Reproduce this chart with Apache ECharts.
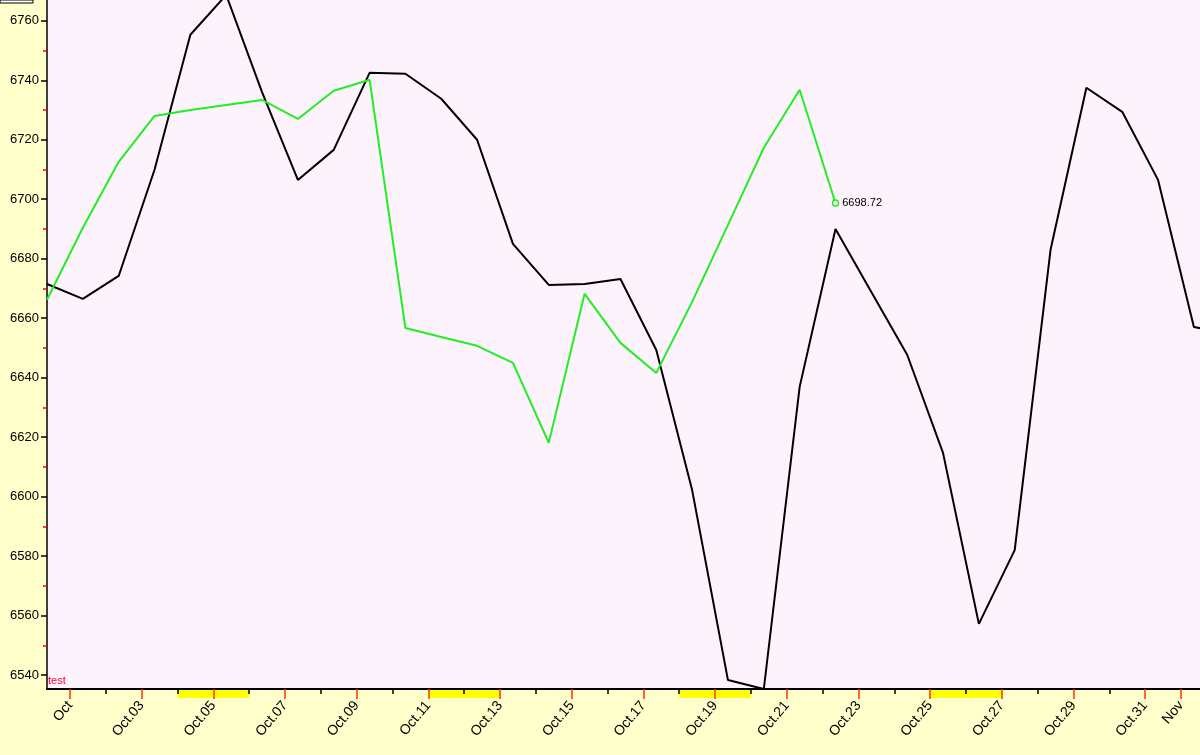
<!DOCTYPE html>
<html>
<head>
<meta charset="utf-8">
<script src="https://cdn.jsdelivr.net/npm/echarts@6/dist/echarts.min.js"></script>
<style>
  html, body { margin: 0; padding: 0; background: #ffffcc; }
  #chart { width: 1200px; height: 755px; }
</style>
</head>
<body>
<div id="chart"></div>
<script>
// day number (Oct 1 = 1) of first sample
var startDay = 0.36;
var blackValues = [6671.5, 6666.5, 6674.2, 6709.9, 6755.3, 6768.7, 6736, 6706.5, 6716.6, 6742.5,
    6742.2, 6733.8, 6720, 6685, 6671.2, 6671.5, 6673.2, 6649.3, 6602.2, 6538.3,
    6535.3, 6636.9, 6690, 6668.8, 6647.7, 6614.7, 6557.2, 6582, 6683, 6737.5,
    6729.4, 6706.5, 6657, 6655];
var greenValues = [6666.2, 6690.4, 6712.6, 6728, 6730, 6731.7, 6733.4, 6727, 6736.5, 6740.2,
    6656.7, 6653.7, 6650.7, 6645, 6618.1, 6668.2, 6651.7, 6641.6, 6665.5, 6691.4,
    6717.3, 6736.8, 6698.72];
var labelDays = [1, 3, 5, 7, 9, 11, 13, 15, 17, 19, 21, 23, 25, 27, 29, 31, 32];
var minorDays = [2, 4, 6, 8, 10, 12, 14, 16, 18, 20, 22, 24, 26, 28, 30];
var yLabels = [6540, 6560, 6580, 6600, 6620, 6640, 6660, 6680, 6700, 6720, 6740, 6760];
var yMinor = [6550, 6570, 6590, 6610, 6630, 6650, 6670, 6690, 6710, 6730, 6750];
// weekend spans shown as yellow bars under the axis
var weekends = [[4, 6], [11, 13], [18, 20], [25, 27]];

function toPts(vals) {
    return vals.map(function (v, i) { return [startDay + i, v]; });
}
var blackData = toPts(blackValues);
var greenData = toPts(greenValues);

var xMin = startDay, xMax = 32.53, yMin = 6535.3, yMax = 6767;

var chart = echarts.init(document.getElementById('chart'));
chart.setOption({
    backgroundColor: '#ffffcc',
    animation: false,
    grid: { left: 47, right: 0, top: 0, bottom: 66, show: true, backgroundColor: '#fdf3fd', borderWidth: 0 },
    xAxis: [{
        type: 'value', min: xMin, max: xMax,
        axisLine: { show: true, onZero: false, lineStyle: { color: '#000', width: 2 } },
        splitLine: { show: false },
        axisTick: { show: true, length: 10, customValues: labelDays, lineStyle: { color: '#ff3300', width: 1.5 } },
        axisLabel: {
            customValues: labelDays, rotate: 50, color: '#000', fontSize: 14, fontFamily: 'Arial', margin: 14,
            formatter: function (v) {
                if (v === 1) return 'Oct';
                if (v === 32) return 'Nov';
                return 'Oct.' + (v < 10 ? '0' + v : v);
            }
        }
    }, {
        type: 'value', min: xMin, max: xMax, position: 'bottom',
        axisLine: { show: false }, splitLine: { show: false },
        axisTick: { show: true, length: 5, customValues: minorDays, lineStyle: { color: '#000', width: 1.5 } },
        axisLabel: { show: false }
    }],
    yAxis: [{
        type: 'value', min: yMin, max: yMax,
        axisLine: { show: true, lineStyle: { color: '#000', width: 1.5 } },
        splitLine: { show: false },
        axisTick: { show: true, length: 6, customValues: yLabels, lineStyle: { color: '#000', width: 1.5 } },
        axisLabel: {
            customValues: yLabels, color: '#000', fontSize: 13, fontFamily: 'Arial', margin: 8,
            formatter: function (v) { return String(v); }
        }
    }, {
        type: 'value', min: yMin, max: yMax, position: 'left',
        axisLine: { show: false }, splitLine: { show: false },
        axisTick: { show: true, length: 4, customValues: yMinor, lineStyle: { color: '#ff0000', width: 1.5 } },
        axisLabel: { show: false }
    }],
    series: [{
        type: 'line', data: blackData, showSymbol: false, clip: true,
        lineStyle: { color: '#000', width: 2 }
    }, {
        type: 'line', data: greenData, clip: true,
        symbol: 'circle',
        showSymbol: true,
        itemStyle: { color: '#fdf3fd', borderColor: '#22ee22', borderWidth: 1.5 },
        lineStyle: { color: '#22ee22', width: 2 },
        label: {
            show: true, position: 'right', distance: 3, fontSize: 11, color: '#000', fontFamily: 'Arial',
            formatter: function (p) { return p.dataIndex === greenData.length - 1 ? '6698.72' : ''; }
        },
        symbolSize: function (v, p) { return p.dataIndex === greenData.length - 1 ? 6 : 0; }
    }]
});

var yAxisPx = chart.convertToPixel({ gridIndex: 0 }, [xMin, yMin])[1];
var graphics = weekends.map(function (w) {
    var x0 = chart.convertToPixel({ xAxisIndex: 0 }, w[0]);
    var x1 = chart.convertToPixel({ xAxisIndex: 0 }, w[1]);
    return { type: 'rect', z: 0, shape: { x: x0, y: yAxisPx + 1, width: x1 - x0, height: 8 }, style: { fill: '#ffff00' } };
});
graphics.push({ type: 'text', left: 48, top: yAxisPx - 14, style: { text: 'test', fill: '#ff0033', fontSize: 11, fontFamily: 'Arial' } });
graphics.push({ type: 'rect', shape: { x: 0, y: 0, width: 33, height: 3 }, style: { fill: '#fff', stroke: '#000', lineWidth: 1 } });
chart.setOption({ graphic: graphics });
</script>
</body>
</html>
